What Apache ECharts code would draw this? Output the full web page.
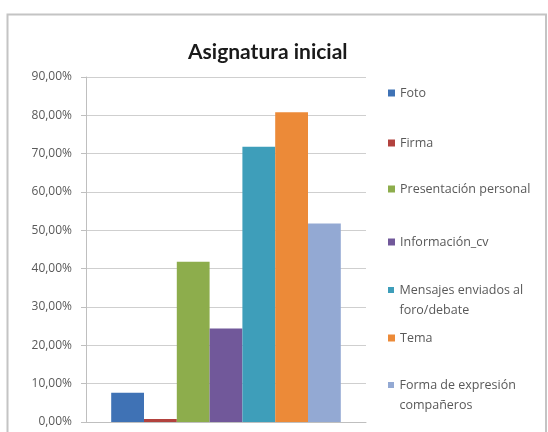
<!DOCTYPE html>
<html>
<head>
<meta charset="utf-8">
<script src="https://cdn.jsdelivr.net/npm/echarts@6/dist/echarts.min.js"></script>
<style>
  html, body { margin: 0; padding: 0; background: #ffffff; }
  #chart { width: 548px; height: 432px; }
</style>
</head>
<body>
<div id="chart"></div>
<script>
// Share of students per item in the initial course
const categories = ['Asignatura inicial'];
const seriesNames = [
  'Foto',
  'Firma',
  'Presentación personal',
  'Información_cv',
  'Mensajes enviados al\nforo/debate',
  'Tema',
  'Forma de expresión\ncompañeros'
];
const seriesValues = [0.076, 0.008, 0.418, 0.244, 0.718, 0.808, 0.518];
const seriesColors = ['#3f72b5', '#b2423e', '#8dad4c', '#71589a', '#3e9eba', '#ec8a38', '#93a9d3'];
const yTicks = { min: 0, max: 0.9, interval: 0.1 };

// vertical centre of the first text line of each legend entry
const legendTops = [93, 143, 189, 242, 290, 338, 385];

const chart = echarts.init(document.getElementById('chart'), null, { renderer: 'canvas' });

const titleFont = 'Lato, "Open Sans", sans-serif';
const bodyFont = '"Open Sans", Lato, sans-serif';
const textGray = '#595959';

// a square icon sitting at the top of a taller box, so it lines up with the first line
const tallIcon = 'path://M0,0h6v6h-6z M0,26';

const legends = seriesNames.map((name, i) => {
  const twoLines = name.indexOf('\n') >= 0;
  return {
    data: [name],
    orient: 'vertical',
    left: 388,
    top: legendTops[i] - 10,
    padding: 0,
    icon: twoLines ? tallIcon : 'rect',
    itemWidth: 7,
    itemHeight: twoLines ? 26 : 7,
    selectedMode: false,
    textStyle: {
      color: textGray,
      fontFamily: bodyFont,
      fontSize: 12.5,
      lineHeight: 20
    }
  };
});

const option = {
  backgroundColor: '#ffffff',
  animation: false,
  title: {
    text: 'Asignatura inicial',
    left: 183,
    top: 37,
    textStyle: {
      fontFamily: titleFont,
      fontWeight: 'bold',
      fontSize: 21,
      color: '#1a1a1a'
    }
  },
  graphic: [{
    type: 'rect',
    shape: { x: 7.5, y: 14.5, width: 538.5, height: 440 },
    style: { fill: 'none', stroke: '#c4c4c4', lineWidth: 2 },
    silent: true
  }],
  legend: legends,
  grid: { left: 86, right: 182, top: 77, bottom: 10, containLabel: false },
  xAxis: {
    type: 'category',
    data: categories,
    axisLine: { show: true, lineStyle: { color: '#bfbfbf', width: 1 } },
    axisTick: { show: false },
    axisLabel: { show: false }
  },
  yAxis: {
    type: 'value',
    min: yTicks.min,
    max: yTicks.max,
    interval: yTicks.interval,
    axisLine: { show: true, lineStyle: { color: '#bfbfbf', width: 1 } },
    axisTick: { show: true, length: 5, lineStyle: { color: '#bfbfbf' } },
    splitLine: { show: true, lineStyle: { color: '#cfcfcf', width: 1 } },
    axisLabel: {
      margin: 14,
      color: textGray,
      fontFamily: bodyFont,
      fontSize: 12,
      formatter: v => (v * 100).toFixed(2).replace('.', ',') + '%'
    }
  },
  series: seriesNames.map((name, i) => ({
    name: name,
    type: 'bar',
    data: [seriesValues[i]],
    barGap: '0%',
    barCategoryGap: '18%',
    itemStyle: { color: seriesColors[i] }
  }))
};

chart.setOption(option);
</script>
</body>
</html>
